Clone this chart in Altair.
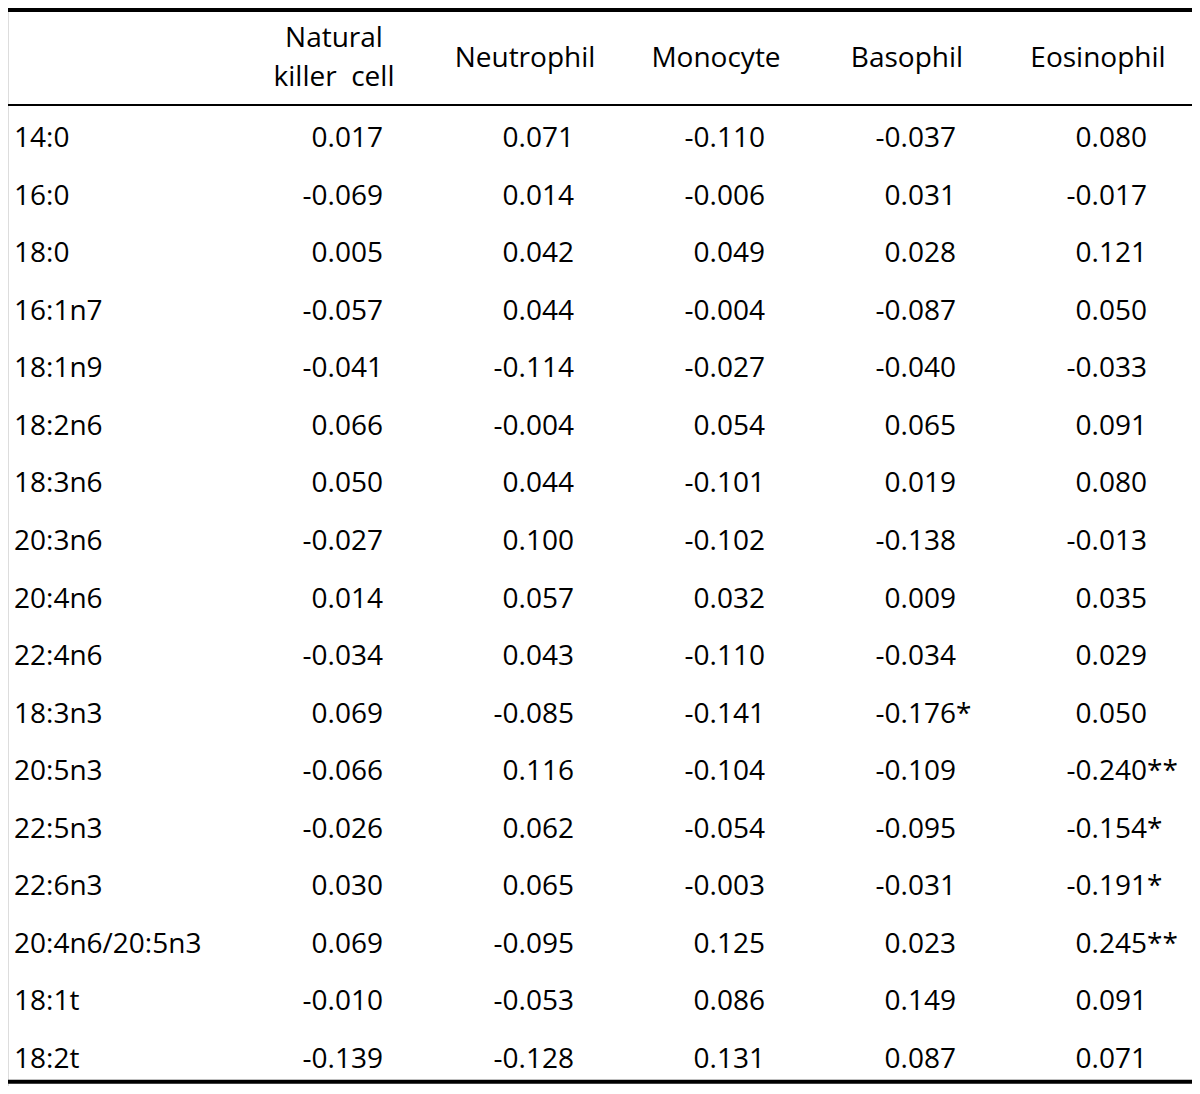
import altair as alt
import pandas as pd

# ---- data ----
rows = ["14:0", "16:0", "18:0", "16:1n7", "18:1n9", "18:2n6", "18:3n6", "20:3n6",
        "20:4n6", "22:4n6", "18:3n3", "20:5n3", "22:5n3", "22:6n3", "20:4n6/20:5n3",
        "18:1t", "18:2t"]
header_top = ["Natural", "", "", "", ""]
header_bottom = ["killer\u00a0\u00a0cell", "", "", "", ""]
header_single = ["", "Neutrophil", "Monocyte", "Basophil", "Eosinophil"]

nk = [0.017, -0.069, 0.005, -0.057, -0.041, 0.066, 0.050, -0.027, 0.014, -0.034,
      0.069, -0.066, -0.026, 0.030, 0.069, -0.010, -0.139]
neut = [0.071, 0.014, 0.042, 0.044, -0.114, -0.004, 0.044, 0.100, 0.057, 0.043,
        -0.085, 0.116, 0.062, 0.065, -0.095, -0.053, -0.128]
mono = [-0.110, -0.006, 0.049, -0.004, -0.027, 0.054, -0.101, -0.102, 0.032, -0.110,
        -0.141, -0.104, -0.054, -0.003, 0.125, 0.086, 0.131]
baso = [-0.037, 0.031, 0.028, -0.087, -0.040, 0.065, 0.019, -0.138, 0.009, -0.034,
        -0.176, -0.109, -0.095, -0.031, 0.023, 0.149, 0.087]
eos = [0.080, -0.017, 0.121, 0.050, -0.033, 0.091, 0.080, -0.013, 0.035, 0.029,
       0.050, -0.240, -0.154, -0.191, 0.245, 0.091, 0.071]

stars_baso = ["", "", "", "", "", "", "", "", "", "", "*", "", "", "", "", "", ""]
stars_eos = ["", "", "", "", "", "", "", "", "", "", "", "**", "*", "*", "**", "", ""]
stars_none = [""] * len(rows)

columns = [nk, neut, mono, baso, eos]
stars = [stars_none, stars_none, stars_none, stars_baso, stars_eos]

# ---- layout (row units on the y scale) ----
HEAD_TOP_ROW = -1.74
HEAD_BOTTOM_ROW = -1.065
HEAD_SINGLE_ROW = -1.395
RULES = [(-2.38, 4), (-0.73, 2), (16.24, 4)]
FONT = "Open Sans"
FS = 28
FW = 500
W, H = 1184, 1078

cells = []
for ci, (vals, st) in enumerate(zip(columns, stars), start=1):
    for r, (v, s) in enumerate(zip(vals, st)):
        cells.append({"ci": ci, "r": r, "val": f"{v:.3f}", "star": s})
cells_df = pd.DataFrame(cells)

labels_df = pd.DataFrame({"r": list(range(len(rows))), "label": rows})

heads = []
for ci in range(1, 6):
    if header_top[ci - 1]:
        heads.append({"ci": ci, "r": HEAD_TOP_ROW, "h": header_top[ci - 1]})
    if header_bottom[ci - 1]:
        heads.append({"ci": ci, "r": HEAD_BOTTOM_ROW, "h": header_bottom[ci - 1]})
    if header_single[ci - 1]:
        heads.append({"ci": ci, "r": HEAD_SINGLE_ROW, "h": header_single[ci - 1]})
head_df = pd.DataFrame(heads)

rules_df = pd.DataFrame({"r": [a for a, _ in RULES], "sw": [b for _, b in RULES]})

xs = alt.Scale(domain=[1, 5], range=[375, 1139], zero=False, nice=False)
ys = alt.Scale(domain=[0, 16], range=[139, 1060], zero=False, nice=False)

X = alt.X("ci:Q", scale=xs, axis=None)
Y = alt.Y("r:Q", scale=ys, axis=None)

rules = alt.Chart(rules_df).mark_rule(color="black").encode(
    x=alt.value(0), x2=alt.value(W), y=Y,
    strokeWidth=alt.StrokeWidth("sw:Q", scale=None, legend=None),
)

labels = alt.Chart(labels_df).mark_text(
    align="left", baseline="alphabetic", font=FONT, fontSize=FS, fontWeight=FW,
    color="black"
).encode(x=alt.value(6), y=Y, text="label:N")

vals = alt.Chart(cells_df).mark_text(
    align="right", baseline="alphabetic", font=FONT, fontSize=FS, fontWeight=FW,
    color="black"
).encode(x=X, y=Y, text="val:N")

star_marks = alt.Chart(cells_df).mark_text(
    align="left", baseline="alphabetic", font=FONT, fontSize=FS, fontWeight=FW,
    color="black"
).encode(x=X, y=Y, text="star:N")

head_marks = alt.Chart(head_df).mark_text(
    align="center", baseline="alphabetic", font=FONT, fontSize=FS, fontWeight=FW,
    color="black", dx=-49
).encode(x=X, y=Y, text="h:N")

chart = alt.layer(rules, labels, vals, star_marks, head_marks).properties(
    width=W, height=H, autosize=alt.AutoSizeParams(type="none"), padding=0
).configure_view(stroke=None).configure(background="white")

chart.save("out.html", embed_options={"renderer": "svg", "actions": False})
